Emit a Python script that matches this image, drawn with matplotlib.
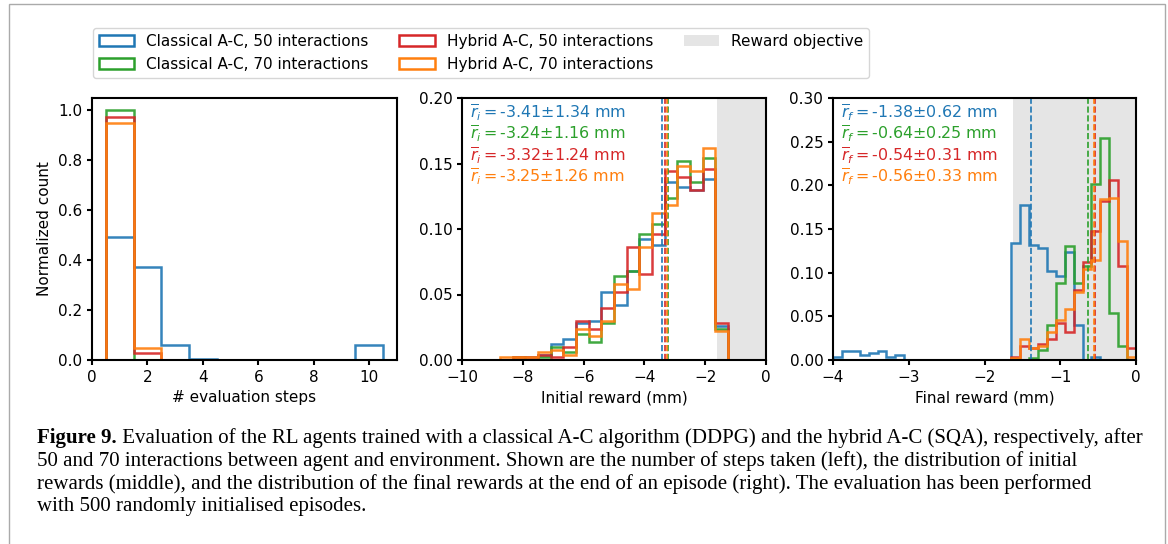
import numpy as np
import matplotlib.pyplot as plt
from matplotlib.patches import Patch, Rectangle

# colours of the four agents
c_blue, c_green, c_red, c_orange = '#1f77b4', '#2ca02c', '#d62728', '#ff7f0e'
labels = ['Classical A-C, 50 interactions', 'Classical A-C, 70 interactions',
          'Hybrid A-C, 50 interactions', 'Hybrid A-C, 70 interactions']
colors = [c_blue, c_green, c_red, c_orange]

# number of evaluation steps (normalized count), bins centred at 1..10
step_edges = np.arange(0.5, 11.0, 1.0)
steps_c50 = [0.494, 0.374, 0.060, 0.006, 0, 0, 0, 0, 0, 0.060]
steps_c70 = [1.000, 0, 0, 0, 0, 0, 0, 0, 0, 0]
steps_h50 = [0.972, 0.028, 0, 0, 0, 0, 0, 0, 0, 0]
steps_h70 = [0.950, 0.050, 0, 0, 0, 0, 0, 0, 0, 0]

# initial reward distribution, 24 bins between -10 and 0 mm
init_edges = np.linspace(-10, 0, 25)
init_c50 = [0, 0, 0, 0, 0, 0.002, 0.004, 0.012, 0.016, 0.028, 0.030, 0.052,
            0.042, 0.068, 0.092, 0.088, 0.136, 0.132, 0.130, 0.138, 0.026, 0, 0, 0]
init_c70 = [0, 0, 0, 0, 0.002, 0, 0.002, 0.010, 0.006, 0.020, 0.014, 0.028,
            0.064, 0.068, 0.096, 0.104, 0.124, 0.152, 0.136, 0.154, 0.024, 0, 0, 0]
init_h50 = [0, 0, 0, 0, 0.002, 0.002, 0.004, 0.002, 0.010, 0.030, 0.024, 0.040,
            0.052, 0.086, 0.066, 0.096, 0.144, 0.140, 0.130, 0.146, 0.028, 0, 0, 0]
init_h70 = [0, 0, 0, 0.002, 0.002, 0.002, 0.006, 0.008, 0.004, 0.024, 0.018, 0.030,
            0.058, 0.054, 0.086, 0.112, 0.118, 0.148, 0.144, 0.162, 0.022, 0, 0, 0]
init_mean = [-3.41, -3.24, -3.32, -3.25]
init_std = [1.34, 1.16, 1.24, 1.26]

# final reward distribution, 34 bins between -4 and 0 mm
final_edges = np.linspace(-4, 0, 35)
final_c50 = [0.004, 0.010, 0.010, 0.006, 0.008, 0.010, 0.004, 0.006] + [0] * 12 + \
            [0.134, 0.178, 0.132, 0.128, 0.102, 0.096, 0.124, 0.040, 0, 0.004, 0, 0, 0, 0]
final_c70 = [0] * 22 + [0.002, 0.012, 0.040, 0.088, 0.130, 0.088, 0.108, 0.202,
                        0.254, 0.054, 0.016, 0]
final_h50 = [0] * 20 + [0.004, 0.016, 0.014, 0.018, 0.024, 0.042, 0.032, 0.080,
                        0.112, 0.148, 0.182, 0.206, 0.108, 0.014]
final_h70 = [0] * 20 + [0.002, 0.024, 0.014, 0.016, 0.032, 0.046, 0.058, 0.078,
                        0.104, 0.114, 0.184, 0.186, 0.136, 0.004]
final_mean = [-1.38, -0.64, -0.54, -0.56]
final_std = [0.62, 0.25, 0.31, 0.33]

reward_objective = -1.62

plt.rcParams['font.size'] = 11
plt.rcParams['axes.linewidth'] = 1.5
plt.rcParams['xtick.major.width'] = 1.5
plt.rcParams['ytick.major.width'] = 1.5

W, H = 1168, 544
fig = plt.figure(figsize=(W / 100, H / 100), dpi=100)

def px_axes(x0, x1, y0, y1):
    return fig.add_axes([x0 / W, 1 - y1 / H, (x1 - x0) / W, (y1 - y0) / H])

ax1 = px_axes(92, 397, 98, 360)
ax2 = px_axes(462, 766, 98, 360)
ax3 = px_axes(833, 1136, 98, 360)

lw, al = 1.8, 0.9

for vals, c in zip([steps_c50, steps_c70, steps_h50, steps_h70], colors):
    ax1.stairs(vals, step_edges, color=c, lw=lw, alpha=al)
ax1.set_xlim(0, 11)
ax1.set_ylim(0, 1.05)
ax1.set_xticks([0, 2, 4, 6, 8, 10])
ax1.set_xlabel('# evaluation steps')
ax1.set_ylabel('Normalized count')

ax2.axvspan(reward_objective, 0, color='#e5e5e5', lw=0, zorder=0)
for vals, c in zip([init_c50, init_c70, init_h50, init_h70], colors):
    ax2.stairs(vals, init_edges, color=c, lw=lw, alpha=al)
for i, (m, s, c) in enumerate(zip(init_mean, init_std, colors)):
    ax2.axvline(m, color=c, ls='--', lw=1.2)
    ax2.text(0.027, 0.943 - i * 0.081, r'$\overline{r}_i=$' + f'{m:.2f}\u00b1{s:.2f} mm',
             color=c, transform=ax2.transAxes, va='center', fontsize=11.4)
ax2.set_xlim(-10, 0)
ax2.set_ylim(0, 0.2)
ax2.set_yticks([0, 0.05, 0.10, 0.15, 0.20])
ax2.set_xlabel('Initial reward (mm)')

ax3.axvspan(reward_objective, 0, color='#e5e5e5', lw=0, zorder=0)
for vals, c in zip([final_c50, final_c70, final_h50, final_h70], colors):
    ax3.stairs(vals, final_edges, color=c, lw=lw, alpha=al)
for i, (m, s, c) in enumerate(zip(final_mean, final_std, colors)):
    ax3.axvline(m, color=c, ls='--', lw=1.2)
    ax3.text(0.027, 0.943 - i * 0.081, r'$\overline{r}_f=$' + f'{m:.2f}\u00b1{s:.2f} mm',
             color=c, transform=ax3.transAxes, va='center', fontsize=11.4)
ax3.set_xlim(-4, 0)
ax3.set_ylim(0, 0.3)
ax3.set_xlabel('Final reward (mm)')

handles = [Patch(facecolor='white', edgecolor=c, lw=1.8) for c in colors]
handles.append(Patch(facecolor='#e5e5e5', edgecolor='none'))
fig.legend(handles, labels + ['Reward objective'], ncol=3, loc='upper left',
           bbox_to_anchor=(93 / W, 1 - 28 / H), borderaxespad=0,
           handlelength=2.3, columnspacing=2.0, fontsize=11)

# caption
cap_font = dict(family='Liberation Serif', size=15, va='center')
lines = [' Evaluation of the RL agents trained with a classical A-C algorithm (DDPG) and the hybrid A-C (SQA), respectively, after',
         '50 and 70 interactions between agent and environment. Shown are the number of steps taken (left), the distribution of initial',
         'rewards (middle), and the distribution of the final rewards at the end of an episode (right). The evaluation has been performed',
         'with 500 randomly initialised episodes.']
t0 = fig.text(37 / W, 1 - 438 / H, 'Figure 9.', weight='bold', **cap_font)
fig.canvas.draw()
bb = t0.get_window_extent()
fig.text(bb.x1 / W, 1 - 438 / H, lines[0], **cap_font)
for i, line in enumerate(lines[1:]):
    fig.text(37 / W, 1 - (461 + 23 * i) / H, line, **cap_font)

fig.patches.append(Rectangle((9 / W, -0.2), (1165 - 9) / W, 1.2 - 4 / H,
                             transform=fig.transFigure, fill=False,
                             edgecolor='#aaaaaa', lw=1))

fig.savefig('out.png', dpi=100)
